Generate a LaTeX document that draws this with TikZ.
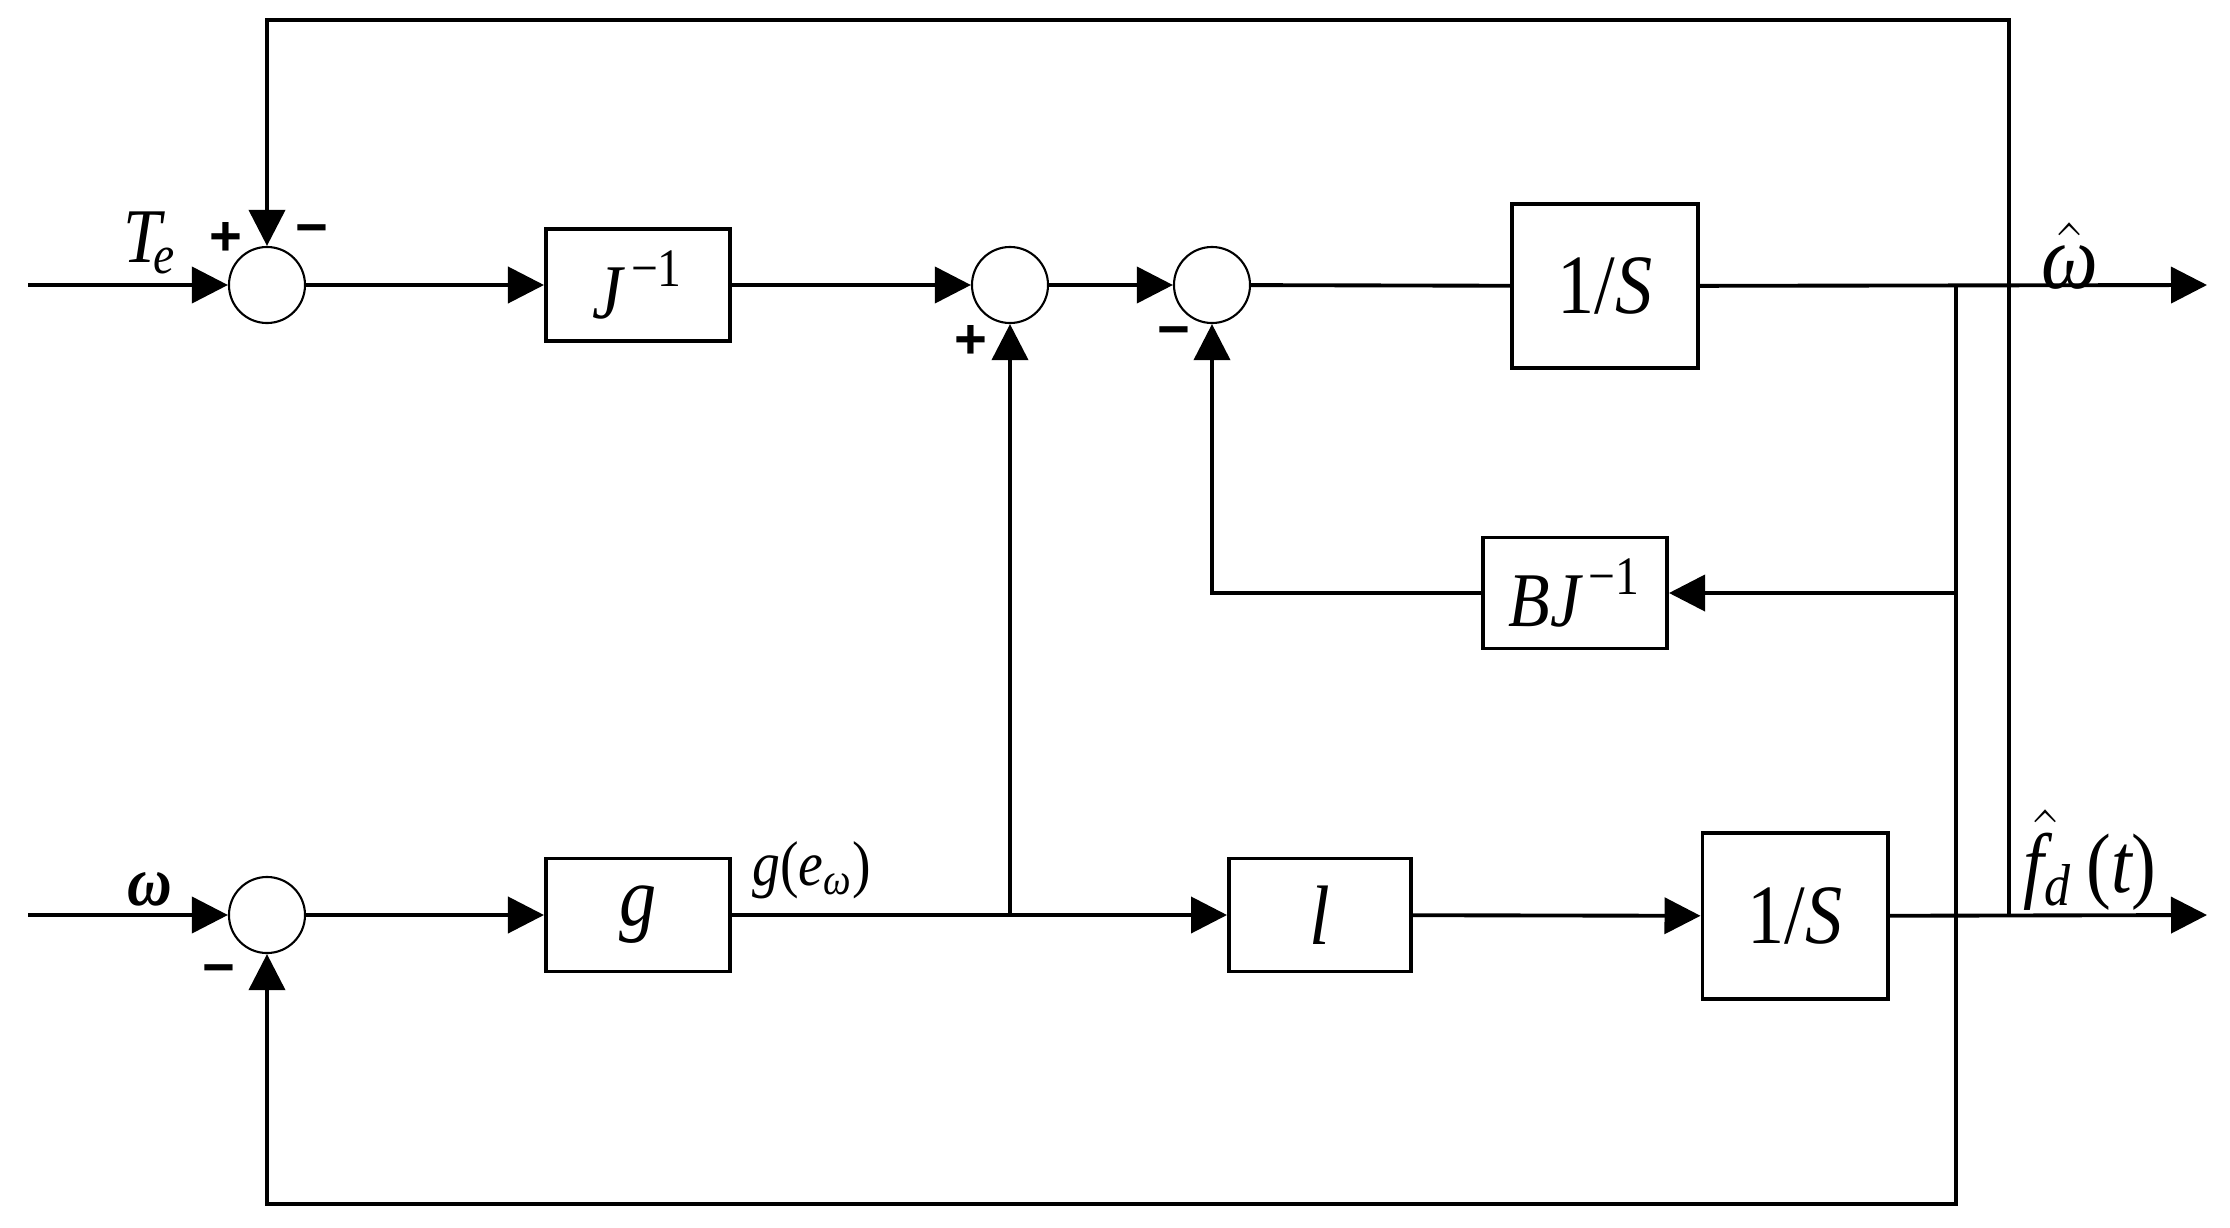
\documentclass[tikz,border=0pt]{standalone}
\usepackage{amsmath}
\usepackage{amssymb}
\usepackage{fontspec}
\setmainfont[FakeStretch=0.88]{Liberation Serif}
\newfontfamily\signfont{Liberation Sans}
\usepackage{tikz}
\usetikzlibrary{arrows.meta,positioning}
\tikzset{sum/.style = {circle,draw,line width=0.6pt,minimum size=0.76cm,inner sep=0pt},
         block/.style = {draw,rectangle,line width=1.1pt,inner sep=0pt,font=\fontsize{22}{26}\selectfont},
         sgn/.style = {inner sep=0pt,font=\signfont\bfseries\fontsize{16}{18}\selectfont},
         lbl/.style = {inner sep=0pt,font=\fontsize{22}{26}\selectfont},
         arr/.style = {-{Triangle[length=0.36cm,width=0.36cm]}}}
\newcommand{\vit}[1]{\textit{#1}}

\begin{document}
\begin{tikzpicture}[x=0.01cm,y=-0.01cm,line width=1.1pt]
                    \useasboundingbox (0,0) rectangle (2230,1227);

                    \node [sum] (s1) at ( 267,285) {};
                    \node [sum] (s2) at (1010,285) {};
                    \node [sum] (s3) at (1212,285) {};
                    \node [sum] (s4) at ( 267,915) {};

                    \node [block,minimum width=1.84cm,minimum height=1.12cm] (J)  at ( 638,285) {$\vit{J}^{\,\text{−1}}$};
                    \node [block,minimum width=1.86cm,minimum height=1.64cm,font=\fontsize{24}{28}\selectfont] (I1) at (1605,286) {1/\vit{S}};
                    \node [block,minimum width=1.84cm,minimum height=1.11cm] (BJ) at (1575,593) {$\vit{BJ}^{\,\text{−1}}$};
                    \node [block,minimum width=1.84cm,minimum height=1.13cm,font=\fontsize{24}{28}\selectfont] (G)  at ( 638,915) {\vit{g}};
                    \node [block,minimum width=1.82cm,minimum height=1.13cm,font=\fontsize{24}{28}\selectfont] (L)  at (1320,915) {\vit{l}};
                    \node [block,minimum width=1.85cm,minimum height=1.66cm,font=\fontsize{24}{28}\selectfont] (I2) at (1795,916) {1/\vit{S}};

                    \coordinate (in1)  at (  28,285);
                    \coordinate (in2)  at (  28,915);
                    \coordinate (out1) at (2207,285);
                    \coordinate (out2) at (2207,915);
                    \coordinate (b1)   at (1956,285);
                    \coordinate (b1j)  at (1956,593);
                    \coordinate (bot)  at (1956,1204);
                    \coordinate (b2)   at (2009,915);
                    \coordinate (top)  at (2009,20);
                    \coordinate (b3)   at (1010,915);

                    \draw [arr] (in1) -- (s1);
                    \draw [arr] (s1) -- (J);
                    \draw [arr] (J) -- (s2);
                    \draw [arr] (s2) -- (s3);
                    \draw (s3) -- (I1);
                    \draw [arr] (I1) -- (out1);
                    \draw [arr] (b1j) -- (BJ);
                    \draw [arr] (BJ) -| (s3);
                    \draw [arr] (b1) -- (bot) -| (s4);
                    \draw [arr] (b2) -- (top) -| (s1);

                    \draw [arr] (in2) -- (s4);
                    \draw [arr] (s4) -- (G);
                    \draw (G) -- (b3);
                    \draw [arr] (b3) -- (s2);
                    \draw [arr] (b3) -- (L);
                    \draw [arr] (L) -- (I2);
                    \draw [arr] (I2) -- (out2);

                    \node [sgn] (p1) at ( 226,239) {+};
                    \node [sgn] (m1) at ( 312,236) {−};
                    \node [sgn] (p2) at ( 971,342) {+};
                    \node [sgn] (m3) at (1174,338) {−};
                    \node [sgn] (m4) at ( 219,976) {−};

                    \node [lbl] (Te)  at ( 150,243) {$\vit{T}_{\!\vit{e}}$};
                    \node [lbl,font=\fontsize{20}{24}\selectfont] (w) at (150,889) {\textbf{\textit{ω}}};
                    \node [lbl,font=\fontsize{26}{30}\selectfont] (wh) at (2070,256) {$\hat{\text{\itshape ω}}$};
                    \node [lbl,font=\fontsize{24}{28}\selectfont] (fd) at (2090,860) {$\skew{5}\hat{\vit{f}}_{\vit{d}}\,\text{(}\vit{t}\text{)}$};
                    \node [lbl,font=\fontsize{18}{21}\selectfont] (ge) at (812,870) {$\vit{g}\text{(}\vit{e}_{\vit{ω}}\text{)}$};
                \end{tikzpicture}
\end{document}
